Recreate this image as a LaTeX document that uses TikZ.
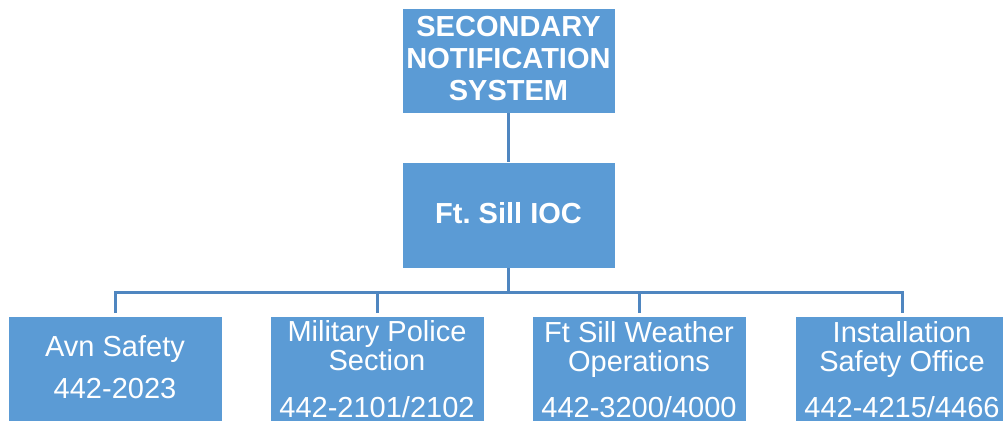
\documentclass[tikz,border=0pt]{standalone}
\usepackage{fontspec}
\setmainfont{Liberation Sans}
\usetikzlibrary{calc}
\frenchspacing
\definecolor{boxblue}{HTML}{5B9BD5}
\definecolor{lineblue}{HTML}{4F86C0}
\begin{document}
\begin{tikzpicture}[x=1pt,y=-1pt,
  box/.style={fill=boxblue,draw=white,line width=0.6pt},
  conn/.style={draw=lineblue,line width=3pt},
  txt/.style={text=white,inner sep=0pt,anchor=base,font=\fontsize{29}{31}\selectfont},
  btxt/.style={txt,font=\fontsize{29}{31}\selectfont\bfseries}]
\useasboundingbox (0,0) rectangle (1003,420);
% boxes
\path[box] (402,8) rectangle (615,113);
\coordinate (topb) at (508.5,113);
\path[box] (402,162) rectangle (615,268);
\coordinate (midt) at (508.5,162);
\coordinate (midb) at (508.5,268);
\path[box] (8,316) rectangle (222,422);
\path[box] (270,316) rectangle (484,422);
\path[box] (532,316) rectangle (746,422);
\path[box] (795,316) rectangle (1009,422);
\coordinate (b1) at (115,313);
\coordinate (b2) at (377,313);
\coordinate (b3) at (639,313);
\coordinate (b4) at (902,313);
\coordinate (bus) at (508.5,292);
% connectors
\draw[conn] (topb) -- (midt);
\draw[conn] (midb) -- (bus);
\draw[conn,line join=miter] (b1) |- (bus) -| (b4);
\draw[conn] (b2) -- (b2 |- bus);
\draw[conn] (b3) -- (b3 |- bus);
% texts
\node[btxt] (t1) at (508.5,37) {SECONDARY};
\node[btxt] (t2) at (508.5,69) {NOTIFICATION};
\node[btxt] (t3) at (508.5,100) {SYSTEM};
\node[btxt] (m1) at (508.5,223) {Ft.\ Sill IOC};
\node[txt] (a1) at (115,356) {Avn Safety};
\node[txt] (a2) at (115,398) {442-2023};
\node[txt] (p1) at (377,341) {Military Police};
\node[txt] (p2) at (377,370) {Section};
\node[txt] (p3) at (377,417) {442-2101/2102};
\node[txt] (w1) at (639,342) {Ft Sill Weather};
\node[txt] (w2) at (639,371) {Operations};
\node[txt] (w3) at (639,417) {442-3200/4000};
\node[txt] (s1) at (902,342) {Installation};
\node[txt] (s2) at (902,371) {Safety Office};
\node[txt] (s3) at (902,417) {442-4215/4466};
\end{tikzpicture}
\end{document}
